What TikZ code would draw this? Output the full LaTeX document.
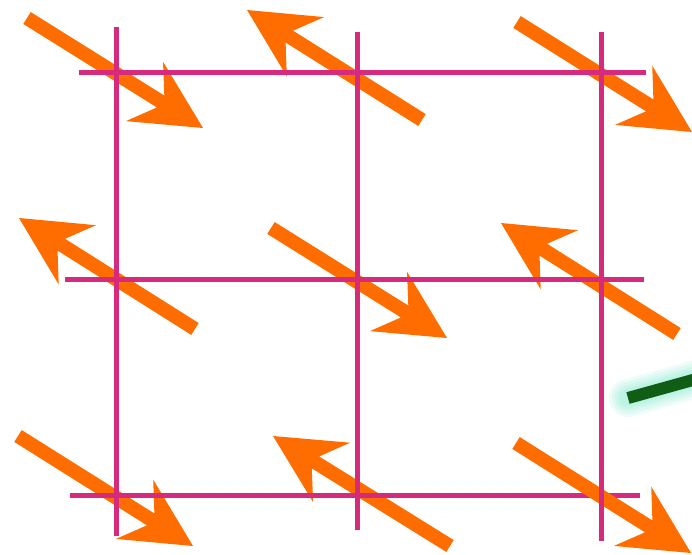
\documentclass[tikz,border=0pt]{standalone}
\usetikzlibrary{calc}
\definecolor{gridmag}{RGB}{214,42,126}
\definecolor{spinorange}{RGB}{255,109,0}
\definecolor{bondgreen}{RGB}{16,94,22}
\definecolor{glowcyan}{RGB}{130,232,205}
\tikzset{
  gridline/.style={draw=gridmag, line width=5pt, line cap=butt},
  spin/.style={fill=spinorange},
  bond/.style={draw=bondgreen, line width=12pt, line cap=butt},
  glow/.style={draw=glowcyan, line cap=round, opacity=0.14}
}
\newcommand{\spinarrow}[3]{%
  \coordinate (#1T) at (#2);
  \coordinate (#1P) at (#3);
  \coordinate (#1H) at ($(#1P)!69pt!(#1T)$);
  \coordinate (#1I) at ($(#1P)!50pt!(#1T)$);
  \fill[spin] (#1P) -- ($(#1H)!35pt!90:(#1P)$) -- ($(#1I)!7pt!90:(#1P)$)
    -- ($(#1T)!7pt!90:(#1P)$) -- ($(#1T)!7pt!-90:(#1P)$)
    -- ($(#1I)!7pt!-90:(#1P)$) -- ($(#1H)!35pt!-90:(#1P)$) -- cycle;
}
\begin{document}
\begin{tikzpicture}[x=1pt,y=-1pt]
\useasboundingbox (0,0) rectangle (692,554);
% glow + green bond
\coordinate (g1) at (628,398);
\coordinate (g2) at (700,378);
\foreach \w in {38,32,26,21,17} {\draw[glow, line width=\w pt] (g1) -- (g2);}
\draw[bond] (g1) -- (g2);
% spins (except lower right)
\spinarrow{a11}{27,18}{203,128}
\spinarrow{a12}{422,120}{247,10}
\spinarrow{a13}{517,22}{692,132}
\spinarrow{a21}{195,329}{19,218}
\spinarrow{a22}{271,228}{447,338}
\spinarrow{a23}{677,334}{501,223}
\spinarrow{a31}{18,436}{193,546}
\spinarrow{a32}{450,546}{273,436}
% grid lines
\coordinate (h3a) at (70,495); \coordinate (h3b) at (640,495);
\draw[gridline] (h3a) -- (h3b);
\spinarrow{a33}{516,443}{691,553}
\coordinate (h1a) at (79,72);  \coordinate (h1b) at (646,72);
\coordinate (h2a) at (65,279); \coordinate (h2b) at (644,279);
\draw[gridline] (h1a) -- (h1b);
\draw[gridline] (h2a) -- (h2b);
\coordinate (v1a) at (116,27); \coordinate (v1b) at (116,536);
\coordinate (v2a) at (357,32); \coordinate (v2b) at (357,530);
\coordinate (v3a) at (601,32); \coordinate (v3b) at (601,541);
\draw[gridline] (v1a) -- (v1b);
\draw[gridline] (v2a) -- (v2b);
\draw[gridline] (v3a) -- (v3b);
\end{tikzpicture}
\end{document}
